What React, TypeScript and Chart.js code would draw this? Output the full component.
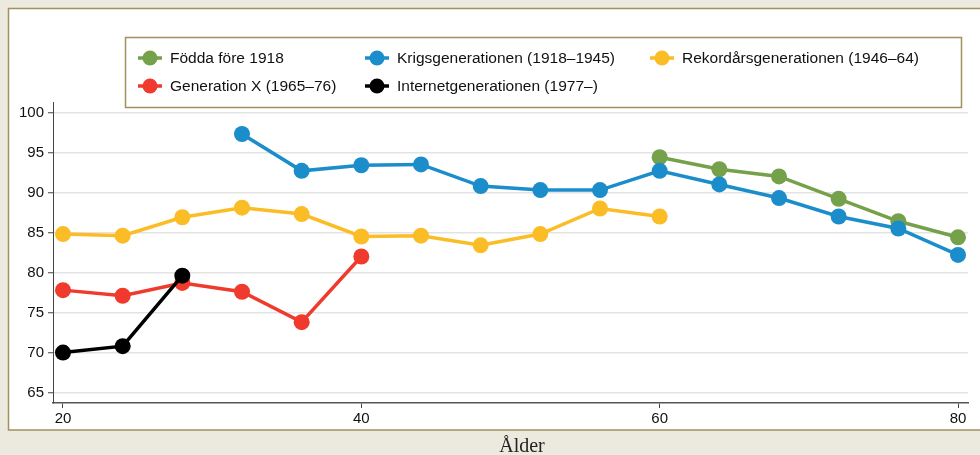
import React, { useEffect, useRef } from 'react';
import { Chart, registerables } from 'chart.js';

Chart.register(...registerables);

// ---- data ----
const seriesLabels = [
  'Födda före 1918',
  'Krigsgenerationen (1918–1945)',
  'Rekordårsgenerationen (1946–64)',
  'Generation X (1965–76)',
  'Internetgenerationen (1977–)',
];
const seriesColors = ['#74a14a', '#1b8dcb', '#fbbd26', '#ef3a2d', '#000000'];

const foddaForeAges = [60, 64, 68, 72, 76, 80];
const foddaFore = [94.4, 92.9, 92.0, 89.2, 86.4, 84.4];

const krigAges = [32, 36, 40, 44, 48, 52, 56, 60, 64, 68, 72, 76, 80];
const krig = [97.3, 92.7, 93.4, 93.5, 90.8, 90.3, 90.3, 92.7, 91.0, 89.3, 87.0, 85.5, 82.2];

const rekordAges = [20, 24, 28, 32, 36, 40, 44, 48, 52, 56, 60];
const rekord = [84.8, 84.6, 86.9, 88.1, 87.3, 84.5, 84.6, 83.4, 84.8, 88.0, 87.0];

const genXAges = [20, 24, 28, 32, 36, 40];
const genX = [77.8, 77.1, 78.7, 77.6, 73.8, 82.0];

const internetAges = [20, 24, 28];
const internet = [70.0, 70.8, 79.6];

const xTicks = [20, 40, 60, 80];
const yTicks = [65, 70, 75, 80, 85, 90, 95, 100];
const xTitle = 'Ålder';

const seriesAges = [foddaForeAges, krigAges, rekordAges, genXAges, internetAges];
const seriesValues = [foddaFore, krig, rekord, genX, internet];

const SANS = '"Liberation Sans", Arial, sans-serif';
const SERIF = '"Liberation Serif", "Times New Roman", serif';
const BEIGE = '#ece9de';
const FRAME = '#a0915e';

const framePlugin = {
  id: 'frame',
  beforeDraw(chart: any) {
    const { ctx, width, height } = chart;
    ctx.save();
    ctx.fillStyle = BEIGE;
    ctx.fillRect(0, 0, width, height);
    ctx.fillStyle = '#ffffff';
    ctx.fillRect(8, 8, width, 422);
    ctx.strokeStyle = FRAME;
    ctx.lineWidth = 1.5;
    ctx.strokeRect(8.5, 8.5, width + 10, 421.5);
    ctx.restore();
  },
  afterDraw(chart: any) {
    const { ctx } = chart;
    ctx.save();
    // legend box
    ctx.strokeStyle = FRAME;
    ctx.lineWidth = 1.5;
    ctx.strokeRect(125.5, 37.5, 836, 70);
    const colX = [150, 377, 662];
    const rowY = [58, 86];
    ctx.font = `15.5px ${SANS}`;
    ctx.textBaseline = 'middle';
    ctx.textAlign = 'left';
    chart.data.datasets.forEach((ds: any, i: number) => {
      const cx = colX[i % 3];
      const cy = rowY[Math.floor(i / 3)];
      ctx.strokeStyle = ds.borderColor;
      ctx.lineWidth = 3.5;
      ctx.beginPath();
      ctx.moveTo(cx - 12, cy);
      ctx.lineTo(cx + 12, cy);
      ctx.stroke();
      ctx.fillStyle = ds.borderColor;
      ctx.beginPath();
      ctx.arc(cx, cy, 7.5, 0, Math.PI * 2);
      ctx.fill();
      ctx.fillStyle = '#111';
      ctx.fillText(ds.label, cx + 20, cy + 1);
    });
    // x-axis title
    ctx.font = `20px ${SERIF}`;
    ctx.fillStyle = '#222';
    ctx.textAlign = 'center';
    ctx.textBaseline = 'alphabetic';
    ctx.fillText(xTitle, 522, 452);
    ctx.restore();
  },
};

export default function App() {
  const ref = useRef<HTMLCanvasElement | null>(null);

  useEffect(() => {
    if (!ref.current) return;
    const datasets = seriesLabels.map((label, i) => ({
      label,
      data: seriesAges[i].map((a, j) => ({ x: a, y: seriesValues[i][j] })),
      borderColor: seriesColors[i],
      backgroundColor: seriesColors[i],
      pointBackgroundColor: seriesColors[i],
      pointBorderColor: seriesColors[i],
      pointBorderWidth: 0,
      pointRadius: 8,
      borderWidth: 3.5,
      tension: 0,
      clip: false as any,
      order: seriesLabels.length - i,
    }));
    const chart = new Chart(ref.current, {
      type: 'line',
      data: { datasets },
      plugins: [framePlugin],
      options: {
        animation: false,
        responsive: false,
        devicePixelRatio: 1,
        layout: { padding: { left: 0, top: 102, right: 12, bottom: 0 } },
        plugins: {
          legend: { display: false },
          tooltip: { enabled: false },
          title: { display: false },
        },
        scales: {
          x: {
            type: 'linear',
            min: 19.33,
            max: 80.67,
            afterFit: (s: any) => { s.height = 52; },
            afterBuildTicks: (s: any) => { s.ticks = xTicks.map((v) => ({ value: v })); },
            grid: {
              drawOnChartArea: false,
              drawTicks: true,
              tickLength: 5,
              tickColor: '#444',
              tickWidth: 1,
            },
            border: { display: true, color: '#555', width: 1.5 },
            ticks: {
              color: '#111',
              font: { family: SANS, size: 15 },
              padding: 2,
              maxRotation: 0,
            },
          },
          y: {
            type: 'linear',
            min: 63.7,
            max: 101.3,
            afterFit: (s: any) => { s.width = 53; },
            afterBuildTicks: (s: any) => { s.ticks = yTicks.map((v) => ({ value: v })); },
            grid: {
              drawOnChartArea: true,
              color: '#e3e3e3',
              lineWidth: 1.5,
              drawTicks: true,
              tickLength: 5,
              tickColor: '#444',
              tickWidth: 1,
            },
            border: { display: true, color: '#444', width: 1 },
            ticks: {
              color: '#111',
              font: { family: SANS, size: 15 },
              padding: 4,
            },
          },
        },
      },
    });
    return () => chart.destroy();
  }, []);

  return (
    <div style={{ position: 'fixed', left: 0, top: 0, width: 980, height: 455 }}>
      <canvas ref={ref} width={980} height={455} style={{ display: 'block' }} />
    </div>
  );
}
